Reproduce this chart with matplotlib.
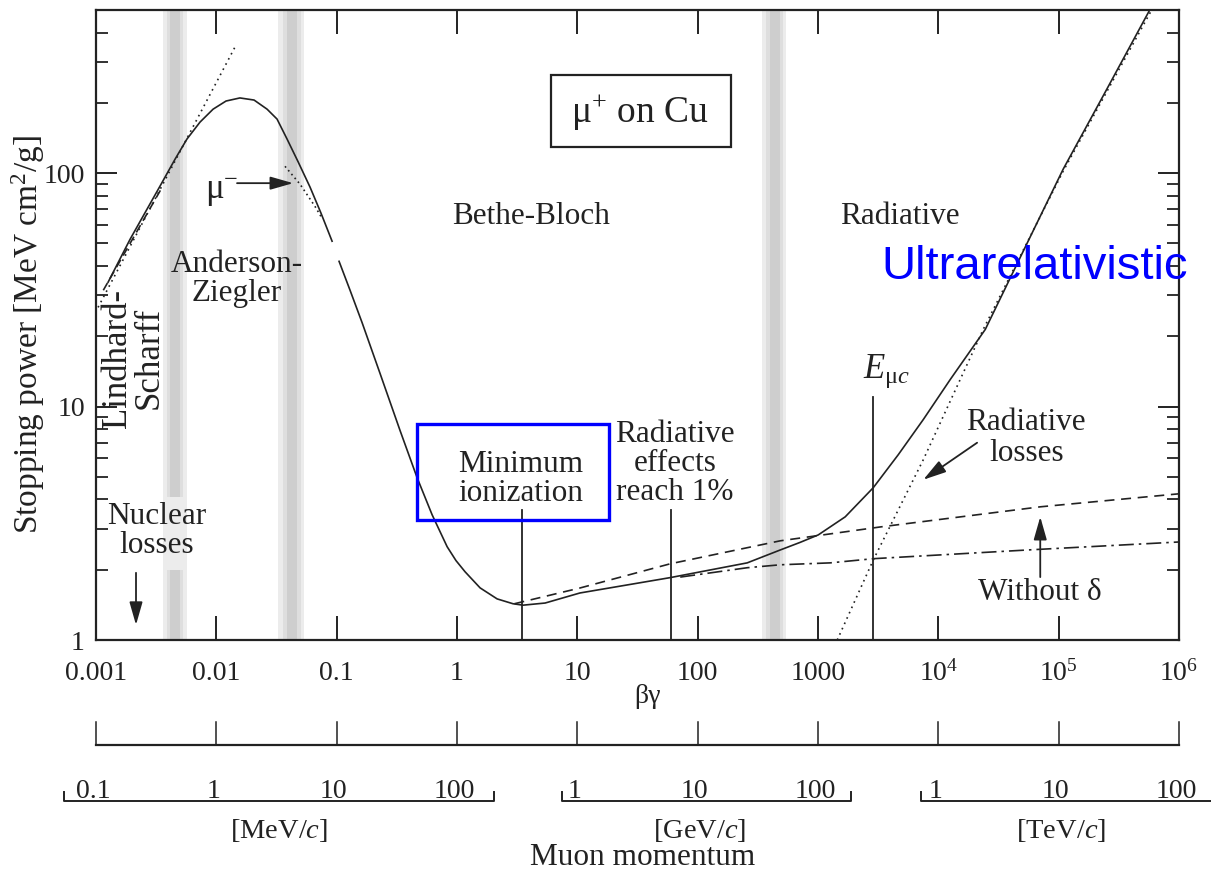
import matplotlib.pyplot as plt
from matplotlib.patches import Rectangle
from matplotlib.ticker import FixedLocator, FixedFormatter, NullLocator

# =====================
# DATA
# beta*gamma  vs  stopping power [MeV cm^2/g]
# =====================
az_bg = [0.00126, 0.00192, 0.0034, 0.00454, 0.0057, 0.00732, 0.0094, 0.01204, 0.0157,
         0.02058, 0.0264, 0.03195, 0.0387, 0.04776, 0.0601, 0.07418, 0.0916]
az_sp = [34.1, 52.1, 87.9, 114.8, 140, 165.5, 188, 203.7, 210,
         205.7, 188, 170.5, 140, 112, 87.1, 67.3, 51.1]

bb_bg = [0.1047, 0.1292, 0.1626, 0.2294, 0.3365, 0.466, 0.621, 0.828, 0.98, 1.167, 1.556,
         2.155, 2.92, 3.54, 5.4, 10.5, 59.0, 258, 485, 711, 1005, 1683, 2877, 4645, 7499,
         12560, 24550, 47960, 109000, 243900, 578000]
bb_sp = [41.9, 31.5, 22.9, 13.86, 7.89, 4.96, 3.44, 2.51, 2.19, 1.96, 1.672,
         1.50, 1.43, 1.41, 1.44, 1.59, 1.85, 2.14, 2.43, 2.62, 2.82, 3.37, 4.49, 6.22, 8.80,
         13.06, 21.4, 43.6, 104, 222.6, 506]

mu_minus_bg = [0.0372, 0.0496, 0.066, 0.0757]
mu_minus_sp = [107, 89.7, 72.1, 64]

lindhard_dot_bg = [0.00104, 0.01429]
lindhard_dot_sp = [26.6, 347]
lindhard_dash_bg = [0.00115, 0.0035]
lindhard_dash_sp = [31.5, 86]

dashed_bg = [3.0, 10.5, 59, 485, 3290, 70300, 1e6]
dashed_sp = [1.43, 1.67, 2.12, 2.66, 3.05, 3.72, 4.23]

no_delta_bg = [71.6, 258, 485, 1262, 2877, 54800, 1e6]
no_delta_sp = [1.86, 2.04, 2.10, 2.14, 2.23, 2.43, 2.63]

rad_bg = [1445, 2877, 7499, 23600, 109000, 600000]
rad_sp = [1.0, 2.2, 5.92, 21.4, 102, 506]

# shaded transition bands (beta*gamma)
band_outer = [(0.00361, 0.0057), (0.0326, 0.0536), (344, 544)]
band_core = [(0.00412, 0.00499), (0.0387, 0.0469), (401, 485)]

# vertical marker lines: (beta*gamma, top value)
markers = [(3.5, 3.61), (60.3, 3.61), (2877, 11.0)]

x_ticks = [1e-3, 1e-2, 1e-1, 1, 10, 100, 1000, 1e4, 1e5, 1e6]
x_labels = ['0.001', '0.01', '0.1', '1', '10', '100', '1000',
            r'$10^4$', r'$10^5$', r'$10^6$']
y_ticks = [1, 10, 100]
y_labels = ['1', '10', '100']

MUON_MASS_MEV = 105.66
mom_ticks = [0.1, 1, 10, 100]
mom_units = ['[MeV/$c$]', '[GeV/$c$]', '[TeV/$c$]']
mom_scale = [1.0, 1e3, 1e6]          # MeV per unit
bracket_range = [(0.057, 215), (0.79, 199), (0.76, 400)]
unit_center = [3.5, 11.0, 11.0]

INK = '#222222'

# =====================
# STYLE
# =====================
plt.rcParams['font.family'] = ['Liberation Serif', 'DejaVu Serif']
plt.rcParams['mathtext.fontset'] = 'custom'
plt.rcParams['mathtext.rm'] = 'Liberation Serif'
plt.rcParams['mathtext.it'] = 'Liberation Serif:italic'
plt.rcParams['text.color'] = INK

fig = plt.figure(figsize=(12.11, 8.74), dpi=100)
ax = fig.add_axes([96 / 1211, 1 - 640 / 874, 1083 / 1211, 630 / 874])
ax.set_xscale('log')
ax.set_yscale('log')
ax.set_xlim(1e-3, 1e6)
ax.set_ylim(1, 500)

# bands
for (lo, hi) in band_outer:
    ax.axvspan(lo, hi, color='#ececec', lw=0, zorder=0)
for i, (lo, hi) in enumerate(band_core):
    spans = [(0, 0.111), (0.227, 1)] if i == 0 else [(0, 1)]
    for y0, y1 in spans:
        ax.axvspan(lo, hi, ymin=y0, ymax=y1, color='#cecece', lw=0, zorder=0)
        mid_lo = (lo * band_outer[i][0]) ** 0.5
        mid_hi = (hi * band_outer[i][1]) ** 0.5
        ax.axvspan(mid_lo, lo, ymin=y0, ymax=y1, color='#dedede', lw=0, zorder=0)
        ax.axvspan(hi, mid_hi, ymin=y0, ymax=y1, color='#dedede', lw=0, zorder=0)

# curves
lw = 1.2
ax.plot(az_bg, az_sp, color=INK, lw=lw)
ax.plot(bb_bg, bb_sp, color=INK, lw=lw)
ax.plot(mu_minus_bg, mu_minus_sp, color=INK, lw=lw, ls=(0, (1, 2)))
ax.plot(lindhard_dot_bg, lindhard_dot_sp, color=INK, lw=lw, ls=(0, (1, 2.5)))
ax.plot(lindhard_dash_bg, lindhard_dash_sp, color=INK, lw=lw, ls=(0, (5, 3)))
ax.plot(dashed_bg, dashed_sp, color=INK, lw=lw, ls=(0, (6, 4)))
ax.plot(no_delta_bg, no_delta_sp, color=INK, lw=lw, ls=(0, (9, 3, 1.5, 3)))
ax.plot(rad_bg, rad_sp, color=INK, lw=lw, ls=(0, (1, 2.5)))

for bg, top in markers:
    ax.plot([bg, bg], [1, top], color=INK, lw=1.3)

# axes styling
for s in ax.spines.values():
    s.set_linewidth(1.6)
    s.set_color(INK)
ax.xaxis.set_major_locator(FixedLocator(x_ticks))
ax.xaxis.set_minor_locator(NullLocator())
ax.set_xticklabels([])
ax.tick_params(axis='x', which='major', direction='in', length=17, width=1.4,
               top=True, bottom=True, color=INK)
for xt, lab in zip(x_ticks, x_labels):
    ax.text(xt, -0.064, lab, transform=ax.get_xaxis_transform(), ha='center',
            va='baseline', fontsize=20)

ax.yaxis.set_major_locator(FixedLocator(y_ticks))
ax.yaxis.set_major_formatter(FixedFormatter(y_labels))
ax.tick_params(axis='y', which='major', direction='in', length=15, width=1.4,
               left=True, right=True, labelsize=20, pad=8, color=INK, labelcolor=INK)
ax.tick_params(axis='y', which='minor', direction='in', length=8.5, width=1.3,
               left=True, right=True, color=INK)
ax.yaxis.set_minor_formatter(FixedFormatter([]))

fig.text(28 / 1211, 1 - 335 / 874, 'Stopping power [MeV cm$^2$/g]', rotation=90,
         ha='center', va='center', fontsize=24)

# boxes
ax.add_patch(Rectangle((0.4201, 0.7825), 0.1662, 0.1143, transform=ax.transAxes,
                       fill=False, ec=INK, lw=1.6))
ax.text(0.5023, 0.838, r'$\mathrm{μ}^{+}$ on Cu', transform=ax.transAxes,
        ha='center', va='center', fontsize=27)
ax.add_patch(Rectangle((0.2964, 0.1905), 0.1773, 0.1524, transform=ax.transAxes,
                       fill=False, ec='#0000ff', lw=2.4, zorder=5))

# labels
fs = 22.5
ax.text(4.13, 65.4, 'Bethe-Bloch', ha='center', va='center', fontsize=fs)
ax.text(4820, 65.4, 'Radiative', ha='center', va='center', fontsize=fs)
ax.text(0.0149, 35.1, 'Anderson-\nZiegler', ha='center', va='center', fontsize=fs,
        linespacing=1.0)
ax.text(0.00205, 16.1, 'Lindhard-\nScharff', ha='center', va='center', fontsize=25,
        rotation=90, linespacing=0.95)
ax.text(0.00321, 2.94, 'Nuclear\nlosses', ha='center', va='center', fontsize=fs,
        linespacing=1.0)
ax.text(3.41, 4.91, 'Minimum\nionization', ha='center', va='center', fontsize=fs,
        linespacing=1.0)
ax.text(65, 5.69, 'Radiative\neffects\nreach 1%', ha='center', va='center',
        fontsize=fs, linespacing=1.0)
ax.text(3690, 14.1, r'$E_{\mathrm{μ}c}$', ha='center', va='center', fontsize=25)
ax.text(53800, 7.36, 'Radiative\nlosses', ha='center', va='center', fontsize=fs,
        linespacing=1.1)
ax.text(70300, 1.59, 'Without δ', ha='center', va='center', fontsize=fs)
ax.text(0.0111, 83.7, r'$\mathrm{μ}^{-}$', ha='center', va='center', fontsize=25)
ax.text(62600, 39.5, 'Ultrarelativistic', ha='center', va='center', fontsize=34,
        family='Liberation Sans', color='#0000ff', clip_on=False, zorder=6)

# arrows
arrow = dict(arrowstyle='-|>,head_length=0.7,head_width=0.2', lw=1.3, color=INK,
             shrinkA=0, shrinkB=0, mutation_scale=20)
ax.annotate('', xy=(0.0435, 90.6), xytext=(0.01486, 90.6), arrowprops=arrow)
ax.annotate('', xy=(0.00215, 1.16), xytext=(0.00215, 1.94), arrowprops=arrow)
ax.annotate('', xy=(7500, 4.86), xytext=(21000, 7.0), arrowprops=arrow)
ax.annotate('', xy=(70300, 3.37), xytext=(70300, 1.86), arrowprops=arrow)

# =====================
# LOWER SCALES (beta*gamma and muon momentum)
# =====================
axb = fig.add_axes([96 / 1211, 0, 1083 / 1211, 184 / 874])
axb.set_xscale('log')
axb.set_xlim(1e-3, 1e6)
axb.set_ylim(0, 1)
axb.axis('off')

axb.text(0.509, 0.962, 'βγ', transform=axb.transAxes, ha='center', va='center',
         fontsize=20)
axb.plot([1e-3, 1e6], [0.701, 0.701], color=INK, lw=1.6, clip_on=False)
for xt in x_ticks:
    axb.plot([xt, xt], [0.701, 0.826], color=INK, lw=1.1, clip_on=False)

for unit, scale, (b0, b1), uc in zip(mom_units, mom_scale, bracket_range, unit_center):
    x0 = b0 * scale / MUON_MASS_MEV
    x1 = b1 * scale / MUON_MASS_MEV
    axb.plot([x0, x0, x1, x1], [0.446, 0.397, 0.397, 0.446], color=INK, lw=1.4,
             clip_on=False)
    for p in mom_ticks:
        if unit == '[MeV/$c$]' or p >= 1:
            axb.text(p * scale / MUON_MASS_MEV, 0.413, f'{p:g}', ha='center',
                     va='baseline', fontsize=20, clip_on=False)
    axb.text(uc * scale / MUON_MASS_MEV, 0.239, unit, ha='center', va='center',
             fontsize=20.5)

axb.text(0.505, 0.087, 'Muon momentum', transform=axb.transAxes, ha='center',
         va='center', fontsize=22.5)

fig.savefig('out.png', dpi=100)
